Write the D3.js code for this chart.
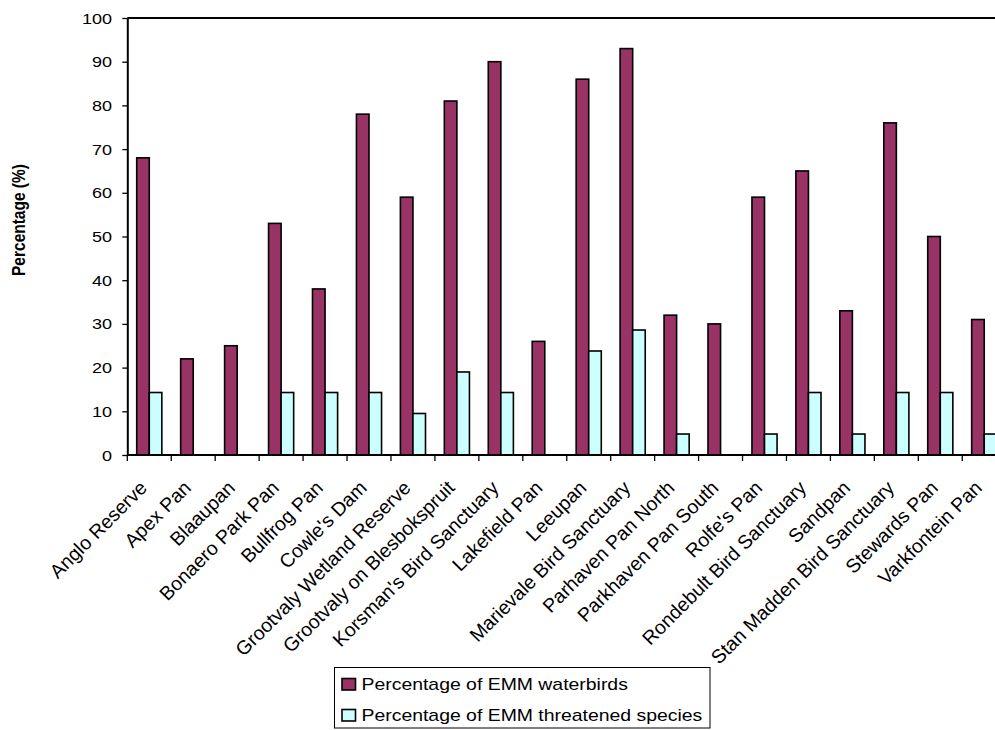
<!DOCTYPE html>
<html>
<head>
<meta charset="utf-8">
<script src="https://cdn.jsdelivr.net/npm/d3@7"></script>
<style>
  body { margin: 0; background: #fff; }
  text { font-family: "Liberation Sans", Arial, sans-serif; fill: #000; }
</style>
</head>
<body>
<div id="chart"></div>
<script>
// Data
const sites = ["Anglo Reserve", "Apex Pan", "Blaaupan", "Bonaero Park Pan", "Bullfrog Pan",
  "Cowle's Dam", "Grootvaly Wetland Reserve", "Grootvaly on Blesbokspruit",
  "Korsman's Bird Sanctuary", "Lakefield Pan", "Leeupan", "Marievale Bird Sanctuary",
  "Parhaven Pan North", "Parkhaven Pan South", "Rolfe's Pan", "Rondebult Bird Sanctuary",
  "Sandpan", "Stan Madden Bird Sanctuary", "Stewards Pan", "Varkfontein Pan"];
const waterbirds = [68, 22, 25, 53, 38, 78, 59, 81, 90, 26, 86, 93, 32, 30, 59, 65, 33, 76, 50, 31];
const threatened = [14.3, 0, 0, 14.3, 14.3, 14.3, 9.5, 19, 14.3, 0, 23.8, 28.6, 4.8, 0, 4.8, 14.3, 4.8, 14.3, 14.3, 4.8];
const seriesNames = ["Percentage of EMM waterbirds", "Percentage of EMM threatened species"];
const colors = ["#993366", "#ccffff"];
const yTicks = [0, 10, 20, 30, 40, 50, 60, 70, 80, 90, 100];

// Size of the page and of the plot area (right side runs off the picture)
const owidth = 995, oheight = 730;
const plot = { left: 127.3, right: 1006.2, top: 18, bottom: 455 };
// the picture is a bit wider than tall, so flat text is stretched sideways
const sx = 1.17;

const svg = d3.select("#chart").append("svg")
  .attr("width", owidth)
  .attr("height", oheight);

// Scales
const xSc = d3.scaleBand()
  .domain(sites)
  .range([plot.left, plot.right]);
const ySc = d3.scaleLinear()
  .domain([0, 100])
  .range([plot.bottom, plot.top]);

const bw = xSc.bandwidth();
const barW = bw / 3.5;      // gap width 150%
const barOff = bw * 0.75 / 3.5;

// Bars
const series = [waterbirds, threatened];
series.forEach((vals, s) => {
  svg.append("g")
    .selectAll("rect")
    .data(vals)
    .join("rect")
      .attr("x", (d, i) => xSc(sites[i]) + barOff + s * barW)
      .attr("y", d => ySc(d))
      .attr("width", barW)
      .attr("height", d => ySc(0) - ySc(d))
      .attr("fill", colors[s])
      .attr("stroke", "#000")
      .attr("stroke-width", 1.6)
      .attr("opacity", d => d > 0 ? 1 : 0);
});

// Frame: top border and axes
svg.append("line")
  .attr("x1", plot.left).attr("x2", plot.right)
  .attr("y1", plot.top).attr("y2", plot.top)
  .attr("stroke", "#000").attr("stroke-width", 2);

// y axis
const yAxis = svg.append("g")
  .attr("transform", `translate(${plot.left},0)`)
  .call(d3.axisLeft(ySc).tickValues(yTicks).tickSize(5).tickSizeOuter(0).tickFormat(""));
yAxis.select(".domain").attr("stroke", "#000").attr("stroke-width", 2);
yAxis.selectAll(".tick line").attr("stroke", "#000").attr("stroke-width", 1.3);

svg.append("g")
  .selectAll("text")
  .data(yTicks)
  .join("text")
    .attr("transform", d => `translate(112,${ySc(d)}) scale(${sx},1)`)
    .attr("text-anchor", "end")
    .attr("dy", "0.36em")
    .attr("font-size", "15.4px")
    .text(d => d);

// x axis (ticks between categories)
const xTickPos = d3.range(sites.length + 1).map(i => plot.left + i * bw);
const xAxis = svg.append("g");
xAxis.append("line")
  .attr("x1", plot.left).attr("x2", plot.right)
  .attr("y1", plot.bottom).attr("y2", plot.bottom)
  .attr("stroke", "#000").attr("stroke-width", 2);
xAxis.selectAll(".xtick")
  .data(xTickPos)
  .join("line")
    .attr("class", "xtick")
    .attr("x1", d => d).attr("x2", d => d)
    .attr("y1", plot.bottom).attr("y2", plot.bottom + 6)
    .attr("stroke", "#000").attr("stroke-width", 1.3);

// Category labels, rotated 45 degrees
svg.append("g")
  .selectAll("text")
  .data(sites)
  .join("text")
    .attr("transform", d => `translate(${xSc(d) + bw / 2 - 1},489) rotate(-45)`)
    .attr("text-anchor", "end")
    .attr("font-size", "19.5px")
    .text(d => d);

// y axis title
svg.append("text")
  .attr("transform", `translate(25,220) scale(${sx},1) rotate(-90)`)
  .attr("text-anchor", "middle")
  .attr("font-size", "15.5px")
  .attr("font-weight", "bold")
  .text("Percentage (%)");

// Legend
const legend = svg.append("g");
legend.append("rect")
  .attr("x", 334.5).attr("y", 667.5)
  .attr("width", 375.5).attr("height", 60.5)
  .attr("fill", "#fff")
  .attr("stroke", "#000")
  .attr("stroke-width", 1);
seriesNames.forEach((name, i) => {
  const yy = 678.5 + i * 31;
  legend.append("rect")
    .attr("x", 342).attr("y", yy)
    .attr("width", 13.5).attr("height", 11.5)
    .attr("fill", colors[i])
    .attr("stroke", "#000")
    .attr("stroke-width", 1.6);
  legend.append("text")
    .attr("transform", `translate(361.5,${yy + 11.5}) scale(${sx},1)`)
    .attr("font-size", "16.6px")
    .text(name);
});
</script>
</body>
</html>
